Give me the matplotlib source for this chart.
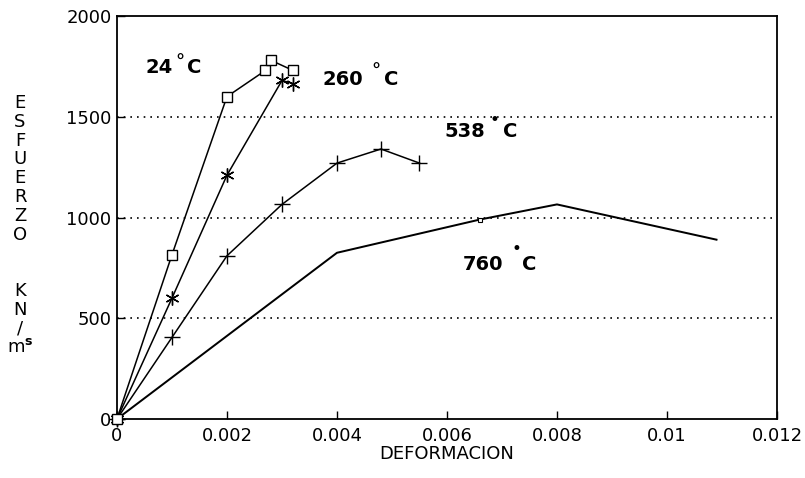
import matplotlib.pyplot as plt

# curvas esfuerzo-deformacion a distintas temperaturas
def_24 = [0, 0.001, 0.002, 0.0027, 0.0028, 0.0032]
esf_24 = [0, 815, 1600, 1730, 1780, 1730]

def_260 = [0, 0.001, 0.002, 0.003, 0.0032]
esf_260 = [0, 600, 1210, 1680, 1665]

def_538 = [0, 0.001, 0.002, 0.003, 0.004, 0.0048, 0.0055]
esf_538 = [0, 405, 810, 1065, 1270, 1340, 1270]

def_760 = [0, 0.004, 0.0066, 0.008, 0.0109]
esf_760 = [0, 825, 990, 1065, 890]

xticks = [0, 0.002, 0.004, 0.006, 0.008, 0.01, 0.012]
xtick_labels = ['0', '0.002', '0.004', '0.006', '0.008', '0.01', '0.012']
yticks = [0, 500, 1000, 1500, 2000]
ylabel_chars = ['E', 'S', 'F', 'U', 'E', 'R', 'Z', 'O', '', '', 'K', 'N', '/', 'm$^{\\mathbf{s}}$']

plt.rcParams['font.family'] = ['DejaVu Sans']

fig = plt.figure(figsize=(8.05, 4.78), dpi=100)
ax = fig.add_axes([0.1453, 0.1234, 0.8199, 0.8431])

lw = 1.1
ax.plot(def_24, esf_24, color='black', lw=lw, marker='s', ms=7,
        mfc='white', mec='black', mew=1.0, clip_on=False, zorder=3)
ax.plot(def_260, esf_260, color='black', lw=lw, marker=(6, 2, 0), ms=10, mew=1.0,
        clip_on=False)
ax.plot(def_538, esf_538, color='black', lw=lw, marker='+', ms=12, mew=1.0,
        clip_on=False)
ax.plot(def_760, esf_760, color='black', lw=lw * 1.3, clip_on=False)
ax.plot(def_760[2], esf_760[2], marker='s', ms=3, mfc='white', mec='black', mew=0.8)

ax.set_xlim(0, 0.012)
ax.set_ylim(0, 2000)
ax.set_xticks(xticks)
ax.set_xticklabels(xtick_labels)
ax.set_yticks(yticks)
for y in [500, 1000, 1500]:
    ax.axhline(y, color='black', lw=1.2, ls=(0, (1, 3)))

ax.tick_params(direction='in', length=6, width=1, labelsize=13, pad=6)
ax.tick_params(axis='y', pad=4)
for s in ax.spines.values():
    s.set_linewidth(1.3)

ax.set_xlabel('DEFORMACION', fontsize=13, labelpad=0)

# etiquetas de temperatura
bold = dict(fontsize=14, fontweight='bold', va='center')
ax.text(0.00051, 1745, '24', **bold)
ax.text(0.00115, 1768, '°', fontsize=13, fontweight='bold', ha='center', va='center')
ax.text(0.00128, 1745, 'C', **bold)
ax.text(0.00374, 1683, '260', **bold)
ax.text(0.00471, 1722, '°', fontsize=13, fontweight='bold', ha='center', va='center')
ax.text(0.00485, 1683, 'C', **bold)
ax.text(0.00596, 1427, '538', **bold)
ax.text(0.00687, 1485, '•', fontsize=12, ha='center', va='center')
ax.text(0.00702, 1427, 'C', **bold)
ax.text(0.00628, 765, '760', **bold)
ax.text(0.00727, 845, '•', fontsize=12, ha='center', va='center')
ax.text(0.00736, 765, 'C', **bold)

# eje y con letras apiladas
y0 = 478 - 103
for i, c in enumerate(ylabel_chars):
    if c:
        fig.text(20 / 805, (y0 - i * 18.8) / 478, c, fontsize=13,
                 ha='center', va='center')

fig.savefig('out.png', dpi=100)
